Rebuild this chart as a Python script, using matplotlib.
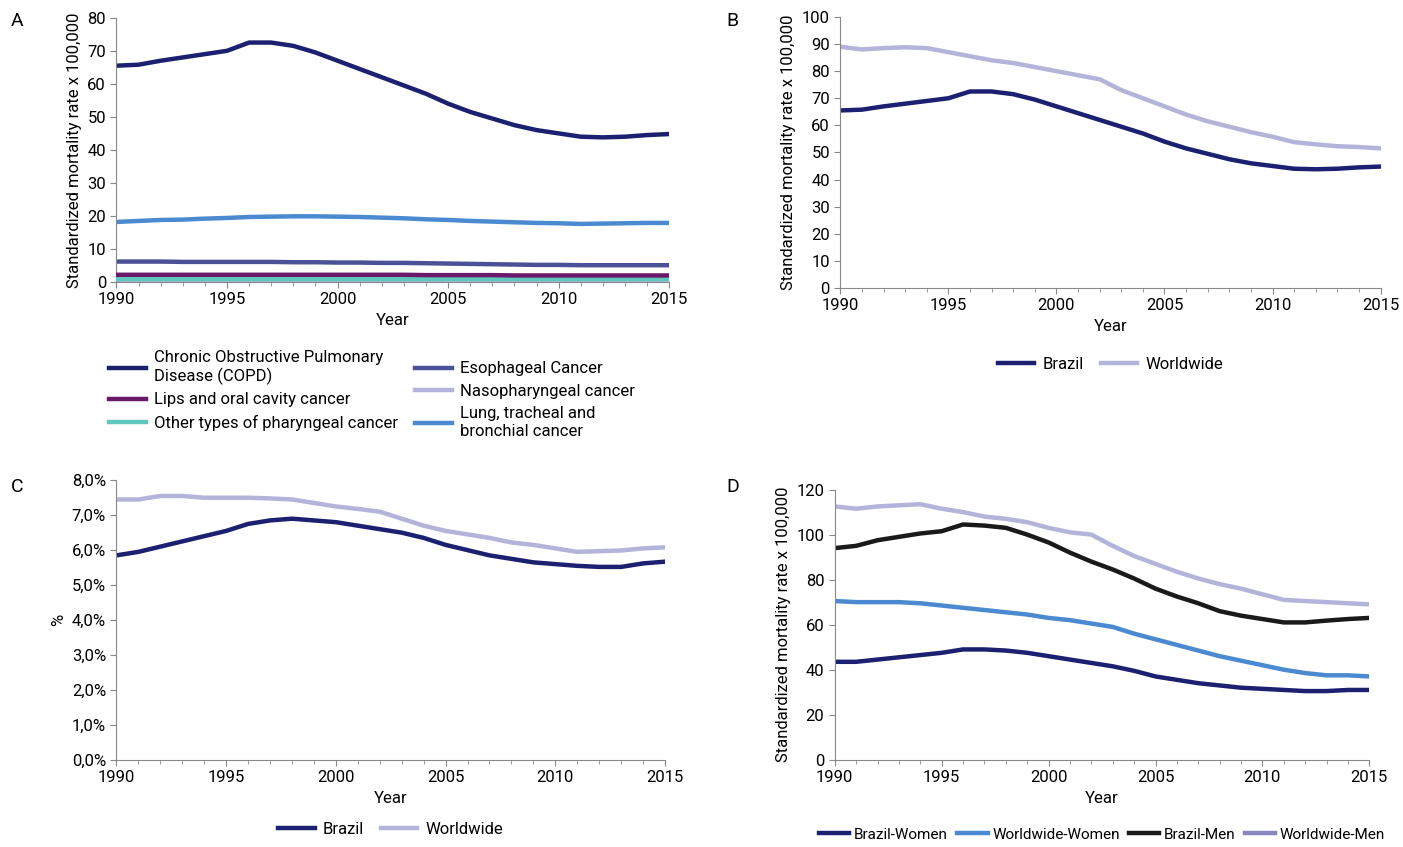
import matplotlib.pyplot as plt
import numpy as np

plt.rcParams['font.family'] = ['Roboto', 'DejaVu Sans']
plt.rcParams['font.size'] = 12

years = np.arange(1990, 2016)

# Panel A
copd = [65.5,65.8,67,68,69,70,72.5,72.5,71.5,69.5,67,64.5,62,59.5,57,54,51.5,49.5,47.5,46,45,44,43.8,44,44.5,44.8]
lung = [18.2,18.5,18.8,18.9,19.2,19.4,19.7,19.8,19.9,19.9,19.8,19.7,19.5,19.3,19.0,18.8,18.5,18.3,18.1,17.9,17.8,17.6,17.7,17.8,17.9,17.9]
esoph = [6.2,6.2,6.2,6.1,6.1,6.1,6.1,6.1,6.0,6.0,5.9,5.9,5.8,5.8,5.7,5.6,5.5,5.4,5.3,5.2,5.2,5.1,5.1,5.1,5.1,5.1]
lips = [2.2,2.2,2.2,2.2,2.2,2.2,2.2,2.2,2.2,2.2,2.2,2.2,2.2,2.2,2.1,2.1,2.1,2.1,2.0,2.0,2.0,2.0,2.0,2.0,2.0,2.0]
naso = [0.5]*26
other = [0.8]*26

# Panel B
ww_b = [89,88,88.5,88.8,88.5,87,85.5,84,83,81.5,80,78.5,77,73,70,67,64,61.5,59.5,57.5,55.8,53.8,53,52.3,52,51.5]

# Panel C (%)
br_pct = [5.85,5.95,6.1,6.25,6.4,6.55,6.75,6.85,6.9,6.85,6.8,6.7,6.6,6.5,6.35,6.15,6.0,5.85,5.75,5.65,5.6,5.55,5.52,5.52,5.62,5.67]
ww_pct = [7.45,7.45,7.55,7.55,7.5,7.5,7.5,7.48,7.45,7.35,7.25,7.18,7.1,6.9,6.7,6.55,6.45,6.35,6.22,6.15,6.05,5.95,5.97,5.99,6.05,6.08]

# Panel D
ww_men = [112.5,111.5,112.5,113,113.5,111.5,110,108,107,105.5,103,101,100,95,90.5,87,83.5,80.5,78,76,73.5,71,70.5,70,69.5,69]
br_men = [94,95,97.5,99,100.5,101.5,104.5,104,103,100,96.5,92,88,84.5,80.5,76,72.5,69.5,66,64,62.5,61,61,61.8,62.5,63]
ww_women = [70.5,70,70,70,69.5,68.5,67.5,66.5,65.5,64.5,63,62,60.5,59,56,53.5,51,48.5,46,44,42,40,38.5,37.5,37.5,37]
br_women = [43.5,43.5,44.5,45.5,46.5,47.5,49,49,48.5,47.5,46,44.5,43,41.5,39.5,37,35.5,34,33,32,31.5,31,30.5,30.5,31,31]

NAVY = '#1b2170'
LAV = '#b4b3da'
BLUE = '#4b8ad0'
lw = 3.2

fig = plt.figure(figsize=(14.03, 8.47), dpi=100)
axA = fig.add_axes([0.083, 0.667, 0.394, 0.312])
axB = fig.add_axes([0.599, 0.660, 0.385, 0.320])
axC = fig.add_axes([0.083, 0.103, 0.391, 0.330])
axD = fig.add_axes([0.595, 0.103, 0.381, 0.319])

def style(ax):
    for s in ['top', 'right']:
        ax.spines[s].set_visible(False)
    for s in ['left', 'bottom']:
        ax.spines[s].set_color('#888888')
    ax.set_xlim(1990, 2015)
    ax.set_xticks(range(1990, 2016, 5))
    ax.set_xticks(range(1990, 2016), minor=True)
    ax.tick_params(which='minor', length=3, color='#888888')
    ax.tick_params(which='major', length=4, color='#888888')
    ax.set_xlabel('Year')

ylab = 'Standardized mortality rate x 100,000'

axA.plot(years, copd, color=NAVY, lw=lw, label='Chronic Obstructive Pulmonary\nDisease (COPD)')
axA.plot(years, lips, color='#6b1a6b', lw=lw, label='Lips and oral cavity cancer', zorder=4)
axA.plot(years, naso, color=LAV, lw=lw, label='_nolegend_')
axA.plot(years, other, color='#5ec8bf', lw=lw, label='Other types of pharyngeal cancer', zorder=3)
axA.plot(years, esoph, color='#4b5196', lw=lw, label='Esophageal Cancer')
axA.plot([], [], color=LAV, lw=lw, label='Nasopharyngeal cancer')
axA.plot(years, lung, color=BLUE, lw=lw, label='Lung, tracheal and\nbronchial cancer')
axA.set_ylim(0, 80)
axA.set_yticks(range(0, 81, 10))
axA.set_ylabel(ylab)
style(axA)
axA.legend(ncol=2, loc='upper left', bbox_to_anchor=(-0.04, -0.2), frameon=False,
           handlelength=2.2, columnspacing=1.0, labelspacing=0.45, handletextpad=0.5)

axB.plot(years, copd, color=NAVY, lw=lw, label='Brazil')
axB.plot(years, ww_b, color=LAV, lw=lw, label='Worldwide')
axB.set_ylim(0, 100)
axB.set_yticks(range(0, 101, 10))
axB.set_ylabel(ylab)
style(axB)
axB.legend(ncol=2, loc='upper center', bbox_to_anchor=(0.5, -0.2), frameon=False,
           handlelength=2.2, columnspacing=1.0, handletextpad=0.5)

axC.plot(years, br_pct, color=NAVY, lw=lw, label='Brazil')
axC.plot(years, ww_pct, color=LAV, lw=lw, label='Worldwide')
axC.set_ylim(0, 8)
axC.set_yticks(np.arange(0, 8.1, 1))
axC.set_yticklabels([f'{v:.1f}%'.replace('.', ',') for v in np.arange(0, 8.1, 1)])
axC.set_ylabel('%')
style(axC)
axC.legend(ncol=2, loc='upper center', bbox_to_anchor=(0.5, -0.17), frameon=False,
           handlelength=2.2, columnspacing=1.0, handletextpad=0.5)

axD.plot(years, br_women, color=NAVY, lw=lw, label='Brazil-Women')
axD.plot(years, ww_women, color=BLUE, lw=lw, label='Worldwide-Women')
axD.plot(years, br_men, color='#1a1a1a', lw=lw, label='Brazil-Men')
axD.plot(years, ww_men, color=LAV, lw=lw, label='_nolegend_')
axD.plot([], [], color='#8a86c0', lw=lw, label='Worldwide-Men')
axD.set_ylim(0, 120)
axD.set_yticks(range(0, 121, 20))
axD.set_ylabel(ylab)
style(axD)
axD.legend(ncol=4, loc='upper center', bbox_to_anchor=(0.5, -0.2), frameon=False,
           handlelength=2.0, columnspacing=0.6, handletextpad=0.3, fontsize=11)

for lab, x, y in [('A', 0.008, 0.975), ('B', 0.518, 0.975),
                  ('C', 0.008, 0.425), ('D', 0.518, 0.425)]:
    fig.text(x, y, lab, fontsize=14, va='center')

fig.savefig('out.png', dpi=100)
